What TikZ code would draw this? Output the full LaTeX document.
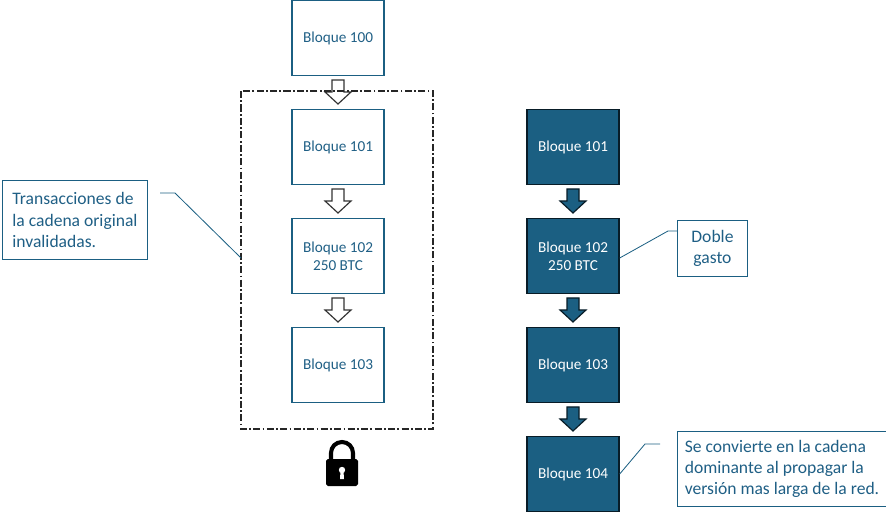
\documentclass[tikz,border=0pt]{standalone}
\usepackage{fontspec}
\setmainfont{Carlito}
\begin{document}
\definecolor{dk}{HTML}{1B5F82}
\definecolor{tx}{HTML}{1F5F85}
\begin{tikzpicture}[x=0.03cm,y=-0.03cm,
 blk/.style={draw=dk,line width=1.2pt,minimum width=2.76cm,minimum height=2.25cm,align=center,font=\fontsize{13}{15.5}\selectfont,text=tx},
 dblk/.style={blk,fill=dk,draw=black!70!dk,text=white},
 call/.style={draw=dk,line width=0.8pt,align=left,font=\fontsize{15}{18}\selectfont,text=tx,inner sep=5pt,anchor=north west},
 ln/.style={draw=dk,line width=0.7pt}]
\useasboundingbox (0,0) rectangle (886,513);
\newcommand{\harrow}[3]{\draw[#3,line width=1pt] (#1-6,#2-12)--(#1+6,#2-12)--(#1+6,#2)--(#1+13,#2)--(#1,#2+12)--(#1-13,#2)--(#1-6,#2)--cycle;}
\node[blk] (b100) at (338,38) {Bloque 100};
\node[blk] (b101) at (338,147) {Bloque 101};
\node[blk] (b102) at (338,256) {Bloque 102\\250 BTC};
\node[blk] (b103) at (338,365) {Bloque 103};
\node[dblk] (c101) at (573,147) {Bloque 101};
\node[dblk] (c102) at (573,256) {Bloque 102\\250 BTC};
\node[dblk] (c103) at (573,365) {Bloque 103};
\node[dblk] (c104) at (573,474) {Bloque 104};
\harrow{338}{92}{draw=black!80,fill=white}
\harrow{338}{201}{draw=black!80,fill=white}
\harrow{338}{310}{draw=black!80,fill=white}
\harrow{573}{201}{draw=black!70!dk,fill=dk}
\harrow{573}{310}{draw=black!70!dk,fill=dk}
\harrow{573}{419}{draw=black!70!dk,fill=dk}
\draw[black!85,line width=1pt,dash pattern=on 6pt off 2pt on 1.5pt off 2pt] (241,91) rectangle (433,429);
\coordinate (fr) at (241,258);
\node[call,minimum width=4.35cm,minimum height=2.37cm] (t1) at (2,180) {Transacciones de\\la cadena original\\invalidadas.};
\draw[ln] (160,193)--(175,193)--(fr);
\node[call,align=center,minimum width=2.1cm,minimum height=1.68cm] (t2) at (677,220) {Doble\\gasto};
\draw[ln] (c102.east)++(0,2)--(668,231)--(677,231);
\node[call,minimum width=6.27cm,minimum height=2.25cm] (t3) at (677,431) {Se convierte en la cadena\\dominante al propagar la\\versión mas larga de la red.};
\draw[ln] (c104.east)--(645,444)--(660,444);
% lock
\draw[black,line width=3.5pt] (331,465)--(331,453) arc[start angle=180,end angle=360,radius=11]--(353,465);
\fill[black,rounded corners=1.5pt] (326,459) rectangle (358,486);
\fill[white] (342,470) circle (3.2);
\fill[white] (340.5,471)--(343.5,471)--(344,479)--(340,479)--cycle;
\end{tikzpicture}
\end{document}
